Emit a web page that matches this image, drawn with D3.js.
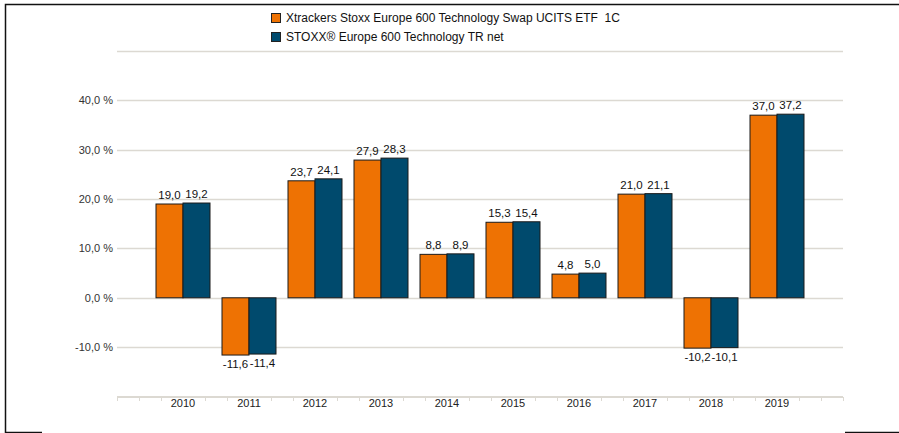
<!DOCTYPE html>
<html>
<head>
<meta charset="utf-8">
<script src="https://cdn.jsdelivr.net/npm/d3@7"></script>
<style>
  body { margin: 0; background: #fff; }
  svg { display: block; font-family: "Liberation Sans", Arial, sans-serif; }
</style>
</head>
<body>
<div id="chart"></div>
<script>
/* Annual performance: ETF vs index */

const years = ["2010", "2011", "2012", "2013", "2014", "2015", "2016", "2017", "2018", "2019"];
const etfValues = [19.0, -11.6, 23.7, 27.9, 8.8, 15.3, 4.8, 21.0, -10.2, 37.0];
const indexValues = [19.2, -11.4, 24.1, 28.3, 8.9, 15.4, 5.0, 21.1, -10.1, 37.2];
const seriesNames = ["Xtrackers Stoxx Europe 600 Technology Swap UCITS ETF  1C", "STOXX® Europe 600 Technology TR net"];
const yTicks = [-10, 0, 10, 20, 30, 40];
const gridTicks = [-10, 0, 10, 20, 30, 40, 50];

const width = 899,
    height = 433,
    margin = ({top: 51, right: 56, bottom: 37, left: 117});

const colors = ["#ee7203", "#004a6d"];
const fmt = v => d3.format(".1f")(v).replace(".", ",").replace("\u2212", "-");

let svg = d3.select("#chart")
    .append("svg")
    .attr("width", width)
    .attr("height", height);

// frame
svg.append("path")
    .attr("d", "M899,4.5H5.5V432.5H42 M845,432.5H899")
    .attr("fill", "none")
    .attr("stroke", "#111")
    .attr("stroke-width", 1.5);

let x = d3.scalePoint()
    .domain(years)
    .range([margin.left, width - margin.right])
    .padding(1);

let y = d3.scaleLinear()
    .domain([-20, 50])
    .range([396.5, 51]);

const barW = 27;

// grid lines
svg.append("g")
    .selectAll("line")
    .data(gridTicks)
    .join("line")
    .attr("x1", margin.left)
    .attr("x2", width - margin.right)
    .attr("y1", d => Math.round(y(d)) + 0.5)
    .attr("y2", d => Math.round(y(d)) + 0.5)
    .attr("stroke", "#dcd9d2")
    .attr("stroke-width", 1.5);

// y labels
svg.append("g")
    .selectAll("text")
    .data(yTicks)
    .join("text")
    .attr("x", 113)
    .attr("y", d => y(d) + 4)
    .attr("text-anchor", "end")
    .attr("font-size", 11)
    .attr("fill", "#333")
    .text(d => fmt(d) + " %");

// x axis line + small ticks
const axisY = 397;
let axis = svg.append("g");
axis.append("line")
    .attr("x1", margin.left)
    .attr("x2", width - margin.right)
    .attr("y1", axisY)
    .attr("y2", axisY)
    .attr("stroke", "#dcd9d2")
    .attr("stroke-width", 2);

const step = x.step();
let tickPos = d3.range(0, 34).map(i => margin.left + i * step / 3)
    .filter((p, i) => i % 3 !== 0 || i === 0 || i === 33);
axis.selectAll(".tk")
    .data(tickPos)
    .join("line")
    .attr("class", "tk")
    .attr("x1", d => Math.round(d) + 0.5)
    .attr("x2", d => Math.round(d) + 0.5)
    .attr("y1", axisY)
    .attr("y2", axisY + 4)
    .attr("stroke", "#dcd9d2")
    .attr("stroke-width", 1);

axis.selectAll(".yr")
    .data(years)
    .join("text")
    .attr("class", "yr")
    .attr("x", d => x(d))
    .attr("y", 407)
    .attr("text-anchor", "middle")
    .attr("font-size", 11)
    .attr("fill", "#222")
    .text(d => d);

// bars
const series = [etfValues, indexValues];
series.forEach((vals, s) => {
    let g = svg.append("g");
    g.selectAll("rect")
        .data(years)
        .join("rect")
        .attr("x", d => x(d) - barW + s * barW)
        .attr("width", barW)
        .attr("y", (d, i) => y(Math.max(0, vals[i])))
        .attr("height", (d, i) => Math.abs(y(vals[i]) - y(0)))
        .attr("fill", colors[s])
        .attr("stroke", "#1a1a1a")
        .attr("stroke-width", 1);

    g.selectAll("text")
        .data(years)
        .join("text")
        .attr("x", d => x(d) - barW / 2 + s * barW)
        .attr("y", (d, i) => vals[i] >= 0 ? y(vals[i]) - 5 : y(vals[i]) + 13)
        .attr("text-anchor", "middle")
        .attr("font-size", 11.5)
        .attr("fill", "#111")
        .text((d, i) => fmt(vals[i]));
});

// legend
let legend = svg.append("g");
seriesNames.forEach((name, i) => {
    let ly = 13 + i * 19;
    legend.append("rect")
        .attr("x", 271.5)
        .attr("y", ly + 0.5)
        .attr("width", 9)
        .attr("height", 9)
        .attr("fill", colors[i])
        .attr("stroke", "#222");
    legend.append("text")
        .attr("x", 286)
        .attr("y", ly + 9)
        .attr("font-size", 12)
        .attr("fill", "#111")
        .style("white-space", "pre")
        .text(name);
});
</script>
</body>
</html>
